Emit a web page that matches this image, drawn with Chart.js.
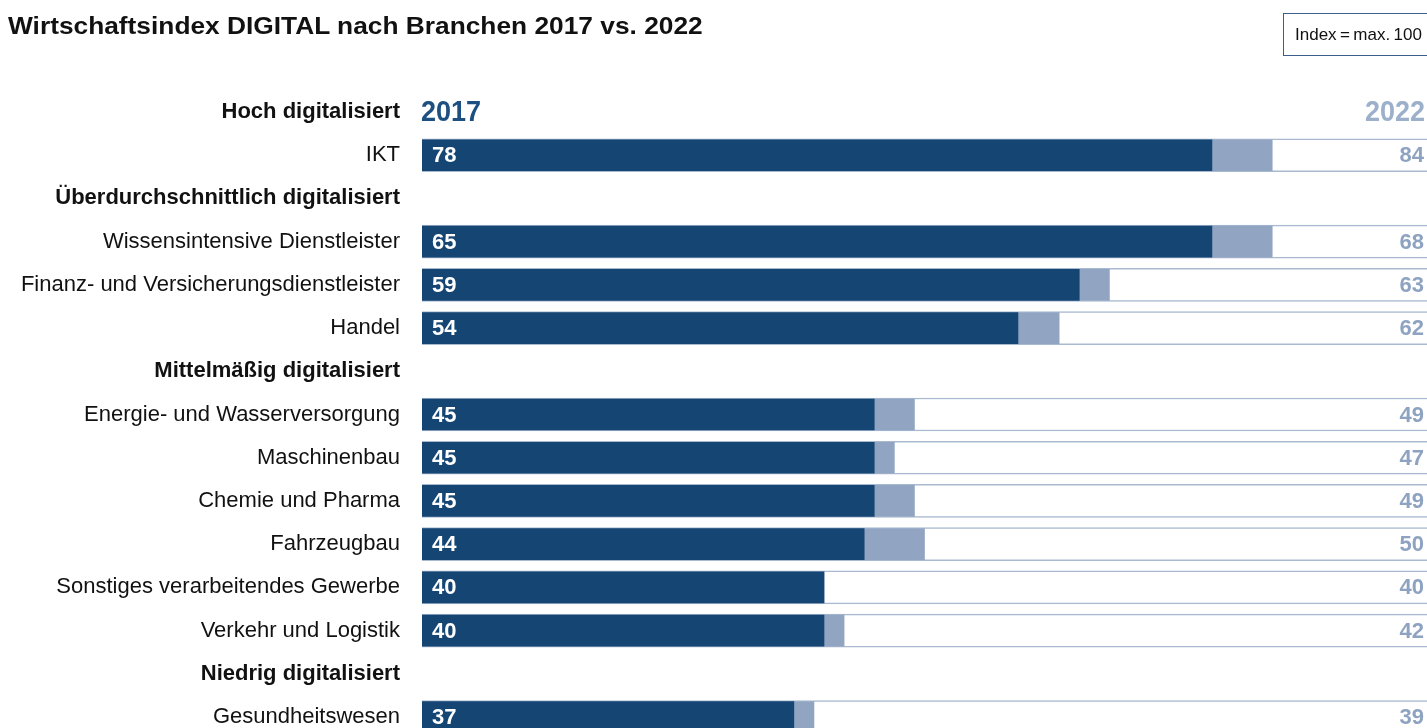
<!DOCTYPE html>
<html lang="de">
<head>
<meta charset="utf-8">
<title>Wirtschaftsindex DIGITAL nach Branchen 2017 vs. 2022</title>
<script src="https://cdn.jsdelivr.net/npm/chart.js@4"></script>
<style>
  html, body { margin: 0; padding: 0; background: #ffffff; overflow: hidden; width: 1427px; height: 728px; }
  #chart { position: absolute; left: 0; top: 0; display: block; }
  #title {
    position: absolute; left: 8px; top: 14px; margin: 0;
    font: bold 24px "Liberation Sans", Arial, sans-serif; line-height: 24px;
    color: #111111; white-space: nowrap;
    transform: scaleX(1.096); transform-origin: left top;
  }
  #note {
    position: absolute; left: 1283px; top: 13px; width: 220px; height: 43px;
    box-sizing: border-box; border: 1.5px solid #3d5f8c;
    display: flex; align-items: center; padding-left: 11px;
    font: 17px "Liberation Sans", Arial, sans-serif; word-spacing: -1.3px; color: #111111;
    white-space: nowrap;
  }
</style>
</head>
<body>
<canvas id="chart" width="1427" height="800"></canvas>
<h1 id="title">Wirtschaftsindex DIGITAL nach Branchen 2017 vs. 2022</h1>
<div id="note">Index = max. 100</div>
<script>
// ---- data ----
const categories = [
  'Hoch digitalisiert',
  'IKT',
  'Überdurchschnittlich digitalisiert',
  'Wissensintensive Dienstleister',
  'Finanz- und Versicherungsdienstleister',
  'Handel',
  'Mittelmäßig digitalisiert',
  'Energie- und Wasserversorgung',
  'Maschinenbau',
  'Chemie und Pharma',
  'Fahrzeugbau',
  'Sonstiges verarbeitendes Gewerbe',
  'Verkehr und Logistik',
  'Niedrig digitalisiert',
  'Gesundheitswesen'
];
const isGroupHeader = [true, false, true, false, false, false, true, false, false, false, false, false, false, true, false];
// bar lengths as drawn in the reference picture
const bars2017 = [null, 78.6, null, 78.6, 65.4, 59.3, null, 45, 45, 45, 44, 40, 40, null, 37];
const bars2022 = [null, 84.6, null, 84.6, 68.4, 63.4, null, 49, 47, 49, 50, 40, 42, null, 39];
// values as printed in the reference picture
const labels2017 = [null, 78, null, 65, 59, 54, null, 45, 45, 45, 44, 40, 40, null, 37];
const labels2022 = [null, 84, null, 68, 63, 62, null, 49, 47, 49, 50, 40, 42, null, 39];
const indexMax = [null, 100, null, 100, 100, 100, null, 100, 100, 100, 100, 100, 100, null, 100];
const years = ['2017', '2022'];

// ---- styles ----
const DARK = '#154673';
const LIGHT = '#91a5c3';
const OUTLINE = '#a9b9d0';
const LIGHT_TEXT = '#8ea3c1';
const YEAR_DARK = '#1d4f80';
const YEAR_LIGHT = '#9cb0cb';
const FONT = '"Liberation Sans", Arial, sans-serif';

const labelPlugin = {
  id: 'labelPlugin',
  afterDatasetsDraw(chart) {
    const ctx = chart.ctx;
    const area = chart.chartArea;
    const meta = chart.getDatasetMeta(0);
    ctx.save();
    ctx.textBaseline = 'middle';
    ctx.font = 'bold 22px ' + FONT;
    meta.data.forEach((el, i) => {
      if (labels2017[i] == null) return;
      ctx.fillStyle = '#ffffff';
      ctx.textAlign = 'left';
      ctx.fillText(String(labels2017[i]), el.base + 10, el.y + 1);
      ctx.fillStyle = LIGHT_TEXT;
      ctx.textAlign = 'right';
      ctx.fillText(String(labels2022[i]), area.right - 3, el.y + 1);
    });
    ctx.restore();
    // year headings in first row (condensed look via horizontal scaling)
    const yHead = chart.scales.y.getPixelForValue(0);
    const sx = 0.9;
    ctx.save();
    ctx.textBaseline = 'middle';
    ctx.font = 'bold 30px ' + FONT;
    ctx.scale(sx, 1);
    ctx.textAlign = 'left';
    ctx.fillStyle = YEAR_DARK;
    ctx.fillText(years[0], (area.left - 1) / sx, yHead + 1);
    ctx.textAlign = 'right';
    ctx.fillStyle = YEAR_LIGHT;
    ctx.fillText(years[1], (area.right - 2) / sx, yHead + 1);
    ctx.restore();
  }
};

new Chart(document.getElementById('chart'), {
  type: 'bar',
  data: {
    labels: categories,
    datasets: [
      { label: years[0], data: bars2017, backgroundColor: DARK, barThickness: 31, grouped: false, borderWidth: 0 },
      { label: years[1], data: bars2022, backgroundColor: LIGHT, barThickness: 31, grouped: false, borderWidth: 0 },
      { label: 'max', data: indexMax, backgroundColor: '#ffffff', borderColor: OUTLINE,
        borderWidth: { top: 1.5, bottom: 1.5, left: 0, right: 0 }, borderSkipped: false,
        barThickness: 33, grouped: false }
    ]
  },
  options: {
    indexAxis: 'y',
    responsive: false,
    animation: false,
    layout: { padding: { top: 90.4, bottom: 61.4, left: 0, right: 0 } },
    plugins: { legend: { display: false }, tooltip: { enabled: false }, title: { display: false } },
    scales: {
      x: { display: false, min: 0, max: 100 },
      y: {
        grid: { display: false, drawTicks: false },
        border: { display: false },
        afterFit(scale) { scale.width = 422; },
        ticks: {
          padding: 22,
          color: '#111111',
          autoSkip: false,
          font: (c) => ({ family: FONT, size: 22, weight: isGroupHeader[c.index] ? 'bold' : 'normal' })
        }
      }
    }
  },
  plugins: [labelPlugin]
});
</script>
</body>
</html>
